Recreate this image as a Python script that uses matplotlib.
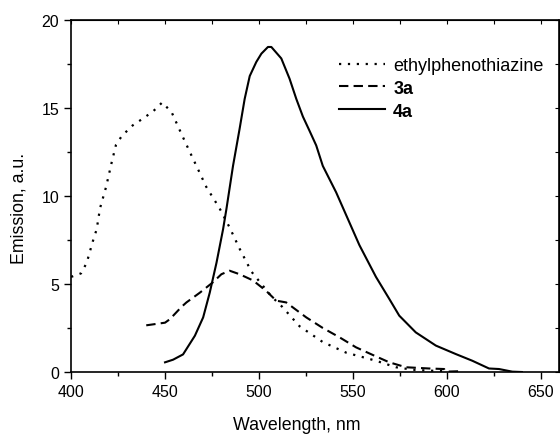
import matplotlib
matplotlib.use("Agg")
import matplotlib.pyplot as plt
from matplotlib.ticker import MultipleLocator

plt.rcParams["font.family"] = ["Liberation Sans", "DejaVu Sans"]

# ethylphenothiazine (dotted)
ept_x = [400, 405.3, 408.3, 411.5, 413.6, 415.4, 418.6, 421.6, 423.9, 427, 432.8, 438.4,
         443.7, 448.5, 453.5, 458.8, 463.6, 467.6, 472, 479, 484.4, 489.7, 496, 506.6,
         512.4, 521.6, 534, 546.4, 562.3, 573, 581.8, 590, 600]
ept_y = [5.4, 5.6, 6.2, 7.4, 8.1, 9.3, 10.5, 11.9, 12.9, 13.4, 14.0, 14.4,
         14.8, 15.3, 14.75, 13.5, 12.4, 11.5, 10.5, 9.3, 8.2, 7.0, 5.7, 4.3,
         3.7, 2.6, 1.7, 1.1, 0.64, 0.27, 0.13, 0.08, 0.05]

# 3a (dashed)
a3_x = [440, 450, 452.6, 458.8, 461.4, 468.5, 475.6, 480, 484.4, 489.7, 496.8, 503.9,
        509.2, 514.5, 525.2, 534, 542.9, 551.7, 561.4, 569.4, 578.3, 590.6, 598.6,
        599.5, 608.4]
a3_y = [2.65, 2.8, 3.0, 3.7, 3.95, 4.5, 5.1, 5.55, 5.75, 5.55, 5.2, 4.6,
        4.05, 3.95, 3.1, 2.5, 1.97, 1.4, 0.93, 0.55, 0.27, 0.2, 0.17,
        0.02, 0.05]

# 4a (solid)
a4_x = [450, 454.3, 459.6, 465.9, 470.3, 473.8, 477.4, 480.9, 482.7, 486.2, 489.7, 492.4,
        495.1, 498.6, 501.3, 504.8, 506.6, 511.9, 516.3, 519.9, 523.4, 526.9, 530.5, 534,
        541.1, 547.3, 553.5, 562.3, 569.4, 574.7, 583.5, 594.2, 604.8, 613.6, 622.5, 627.8,
        634.9, 640]
a4_y = [0.55, 0.7, 1.0, 2.06, 3.1, 4.5, 6.2, 8.1, 9.26, 11.7, 13.8, 15.5,
        16.8, 17.6, 18.07, 18.45, 18.45, 17.8, 16.65, 15.5, 14.5, 13.7, 12.86, 11.7,
        10.2, 8.7, 7.2, 5.4, 4.15, 3.2, 2.25, 1.5, 1.02, 0.64, 0.2, 0.17,
        0.02, 0.0]

fig = plt.figure(figsize=(5.6, 4.35), dpi=100)
ax = fig.add_axes([0.127, 0.1425, 0.872, 0.81])

ax.plot(ept_x, ept_y, color="black", lw=1.6, linestyle=(0, (1, 3)), label="ethylphenothiazine")
ax.plot(a3_x, a3_y, color="black", lw=1.5, linestyle=(0, (4.5, 2.5)), label="3a")
ax.plot(a4_x, a4_y, color="black", lw=1.5, label="4a")

ax.set_xlim(400, 660)
ax.set_ylim(0, 20)
ax.xaxis.set_major_locator(MultipleLocator(50))
ax.xaxis.set_minor_locator(MultipleLocator(25))
ax.yaxis.set_major_locator(MultipleLocator(5))
ax.yaxis.set_minor_locator(MultipleLocator(2.5))
ax.tick_params(which="both", direction="out", labelsize=11.5, width=1)
ax.tick_params(which="major", length=5)
ax.tick_params(which="minor", length=3)

# inward ticks on top and right
sec_x = ax.secondary_xaxis("top")
sec_x.xaxis.set_major_locator(MultipleLocator(25))
sec_x.tick_params(direction="in", length=3, labeltop=False)
sec_y = ax.secondary_yaxis("right")
sec_y.yaxis.set_major_locator(MultipleLocator(2.5))
sec_y.tick_params(direction="in", length=3, labelright=False)

for s in ax.spines.values():
    s.set_linewidth(1.2)

ax.set_xlabel("Wavelength, nm", fontsize=12.8)
ax.xaxis.set_label_coords(0.4625, -0.125)
ax.set_ylabel("Emission, a.u.", fontsize=12.8)
ax.yaxis.set_label_coords(-0.09, 0.468)

leg = ax.legend(loc="upper left", bbox_to_anchor=(0.549, 0.894), frameon=False, fontsize=13,
                borderpad=0, borderaxespad=0, handlelength=2.55, handletextpad=0.44,
                labelspacing=0.32)
for t in leg.get_texts()[1:]:
    t.set_fontweight("bold")

fig.savefig("out.png", dpi=100)
